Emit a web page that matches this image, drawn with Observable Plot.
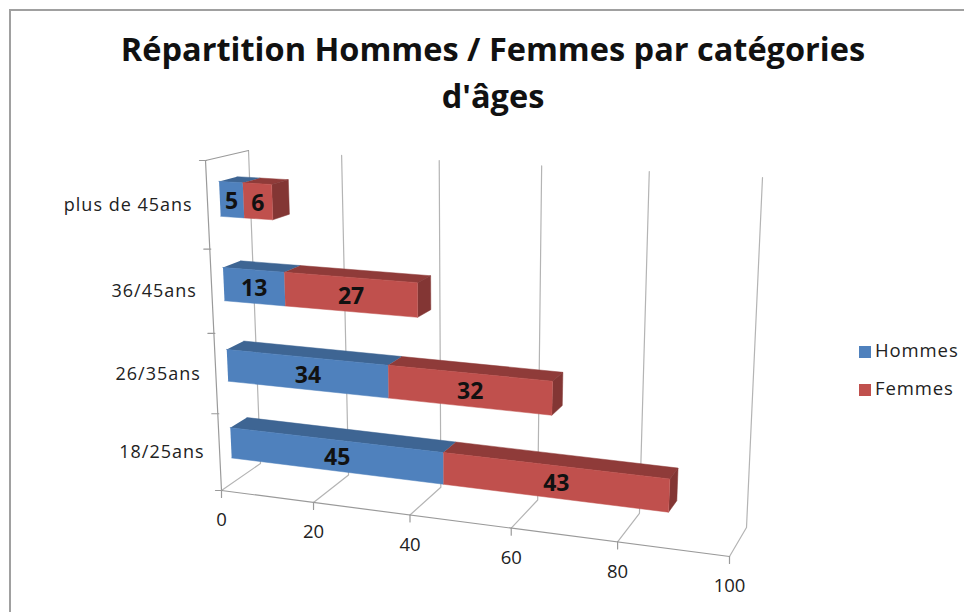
<!DOCTYPE html>
<html><head><meta charset="utf-8">
<script src="https://cdn.jsdelivr.net/npm/d3@7"></script>
<script src="https://cdn.jsdelivr.net/npm/@observablehq/plot@0.6"></script>
<style>
html,body{margin:0;padding:0;background:#fff}
#wrap{position:relative;width:964px;height:612px;overflow:hidden}
#frame{position:absolute;left:9px;top:9px;right:-3px;bottom:-3px;border-left:2px solid #a0a0a0;border-top:2px solid #a0a0a0}
#title{position:absolute;left:10px;width:966px;top:25px;text-align:center;font:bold 32.5px/47px "Open Sans",sans-serif;color:#111}
#legend{position:absolute;left:859px;top:331px;font:18.5px/38px "Open Sans",sans-serif;letter-spacing:.9px;color:#222}
#legend div{white-space:nowrap;height:38px}
#legend i{display:inline-block;width:12px;height:12px;margin-right:4px;vertical-align:-1px}
svg{position:absolute;left:0;top:0}
.catlabel{letter-spacing:1px}
</style></head><body>
<div id="wrap"><div id="frame"></div><div id="title">Répartition Hommes / Femmes par catégories<br>d'âges</div><div id="legend"></div><div id="chart"></div></div>
<script>
const categories = ["18/25ans", "26/35ans", "36/45ans", "plus de 45ans"];
const hommes = [45, 34, 13, 5];
const femmes = [43, 32, 27, 6];
const valueTicks = [0, 20, 40, 60, 80, 100];
const seriesNames = ["Hommes", "Femmes"];
const tones = {
  Hommes: {front: "#4F81BD", top: "#3E6593"},
  Femmes: {front: "#C0504D", top: "#8F3B39", side: "#833634"}
};

// Perspective box of the chart: corners as [value, depth, height]
const corners = {
  "000": [221, 490], "100": [729, 556], "010": [260, 463], "110": [746, 527],
  "001": [205, 160], "101": [749, 189], "011": [248, 150], "111": [762, 177]
};
const warp = (t, w) => t / (t + (1 - t) * w);
function project(v, d, h) {
  const a = warp(v / 100, 1.13), c = warp(h, 1.1);
  let x = 0, y = 0;
  for (const i of [0, 1]) for (const j of [0, 1]) for (const k of [0, 1]) {
    const f = (i ? a : 1 - a) * (j ? d : 1 - d) * (k ? c : 1 - c);
    const p = corners[`${i}${j}${k}`];
    x += f * p[0]; y += f * p[1];
  }
  return {px: x, py: y};
}

const n = categories.length;
const d0 = 0.29, d1 = 0.71, barShare = 0.40, lift = 0.008;
const faces = [];
function face(id, color, pts) {
  for (const p of pts) faces.push({id, color, ...project(...p)});
}
// back category first so nearer bars paint over it
for (let i = n - 1; i >= 0; i--) {
  const mid = (i + 0.5) / n + lift;
  const h0 = mid - barShare / n / 2, h1 = mid + barShare / n / 2;
  const stops = [0, hommes[i], hommes[i] + femmes[i]];
  seriesNames.forEach((s, k) => {
    const a = stops[k], b = stops[k + 1];
    face(`t${i}${s}`, tones[s].top, [[a, d0, h1], [b, d0, h1], [b, d1, h1], [a, d1, h1]]);
  });
  const e = stops[2];
  face(`s${i}`, tones.Femmes.side, [[e, d0, h0], [e, d1, h0], [e, d1, h1], [e, d0, h1]]);
  seriesNames.forEach((s, k) => {
    const a = stops[k], b = stops[k + 1];
    face(`f${i}${s}`, tones[s].front, [[a, d0, h0], [b, d0, h0], [b, d0, h1], [a, d0, h1]]);
  });
}

const seg = (id, pts) => pts.map(p => ({id, ...p}));
const grid = valueTicks.flatMap(v => seg(`g${v}`, [project(v, 0, 0), project(v, 1, 0), project(v, 1, 1)]));
const frameLines = [
  ...seg("front", [project(0, 0, 0), project(100, 0, 0)]),
  ...seg("wall", [project(0, 1, 1), project(0, 0, 1), project(0, 0, 0)])
];
const valueTickMarks = valueTicks.flatMap(v => {
  const p = project(v, 0, 0);
  return seg(`v${v}`, [p, {px: p.px, py: p.py + 7}]);
});
const catTickMarks = d3.range(n + 1).flatMap(i => {
  const p = project(0, 0, i / n);
  return seg(`c${i}`, [{px: p.px - 6, py: p.py}, {px: p.px + 1, py: p.py}]);
});
const valueLabels = valueTicks.map(v => ({v, ...project(v, 0, 0)}));
const catLabels = categories.map((c, i) => ({c, ...project(0, 0, (i + 0.5) / n)}));
const barLabels = categories.flatMap((c, i) => {
  const mid = (i + 0.5) / n + lift;
  return [[0, hommes[i]], [hommes[i], femmes[i]]].map(([s, w]) => {
    const a = project(s, d0, mid), b = project(s + w, d0, mid);
    return {w, px: (a.px + b.px) / 2, py: (a.py + b.py) / 2};
  });
});

const chart = Plot.plot({
  width: 964, height: 612,
  marginTop: 0, marginRight: 0, marginBottom: 0, marginLeft: 0,
  x: {domain: [0, 964], range: [0, 964], axis: null},
  y: {domain: [0, 612], range: [0, 612], axis: null},
  color: {type: "identity"},
  style: {background: "transparent", overflow: "visible"},
  marks: [
    Plot.line(grid, {x: "px", y: "py", z: "id", stroke: "#b4b4b4", strokeWidth: 1.2}),
    Plot.line(frameLines, {x: "px", y: "py", z: "id", stroke: "#9a9a9a", strokeWidth: 1.2}),
    Plot.line(valueTickMarks, {x: "px", y: "py", z: "id", stroke: "#9a9a9a", strokeWidth: 1.2}),
    Plot.line(catTickMarks, {x: "px", y: "py", z: "id", stroke: "#9a9a9a", strokeWidth: 1.2}),
    Plot.line(faces, {x: "px", y: "py", z: "id", fill: "color", stroke: "color", strokeWidth: 0.5}),
    Plot.text(barLabels, {x: "px", y: "py", text: "w", fontSize: 23, fontWeight: 700, fontFamily: "Open Sans", fill: "#111", dy: 2}),
    Plot.text(valueLabels, {x: "px", y: "py", text: "v", dy: 30, fontSize: 18.5, fontFamily: "Open Sans", fill: "#222"}),
    Plot.text(catLabels, {x: "px", y: "py", text: "c", dx: -15, textAnchor: "end", fontSize: 18, fontFamily: "Open Sans", fill: "#222", className: "catlabel"})
  ]
});
document.getElementById("chart").append(chart);
document.getElementById("legend").innerHTML = seriesNames.map(s =>
  `<div><i style="background:${tones[s].front}"></i>${s}</div>`).join("");
</script></body></html>
